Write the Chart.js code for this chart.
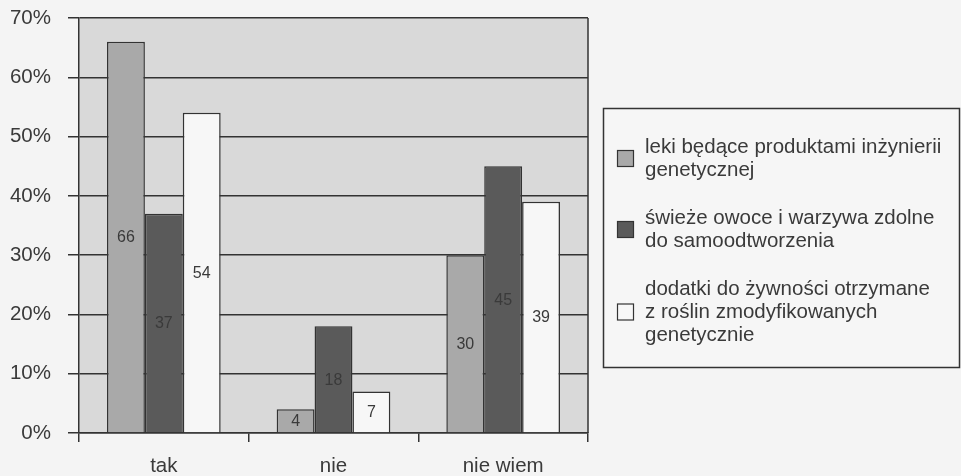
<!DOCTYPE html>
<html lang="pl">
<head>
<meta charset="utf-8">
<script src="https://cdn.jsdelivr.net/npm/chart.js@4/dist/chart.umd.min.js"></script>
<style>
  html, body { margin: 0; padding: 0; background: #f4f4f4; }
  #wrap { width: 961px; height: 476px; position: relative; }
</style>
</head>
<body>
<div id="wrap"><canvas id="c" width="961" height="476"></canvas></div>
<script>
// Answer categories
const categories = ['tak', 'nie', 'nie wiem'];

// Series names (legend lines)
const seriesNames = [
  ['leki będące produktami inżynierii', 'genetycznej'],
  ['świeże owoce i warzywa zdolne', 'do samoodtworzenia'],
  ['dodatki do żywności otrzymane', 'z roślin zmodyfikowanych', 'genetycznie']
];

// Percent of answers per category
const lekiValues    = [66, 4, 30];
const owoceValues   = [37, 18, 45];
const dodatkiValues = [54, 7, 39];

// Value axis
const yMax = 70;
const yStep = 10;

const seriesValues = [lekiValues, owoceValues, dodatkiValues];
const seriesColors = ['#a9a9a9', '#5a5a5a', '#f7f7f7'];
const INK = '#333333';
const TEXT = '#3a3a3a';
const FONT = '"Liberation Sans", Arial, sans-serif';

// Gray plot background with a frame
const plotFrame = {
  id: 'plotFrame',
  beforeDraw(chart) {
    const { ctx, chartArea: a } = chart;
    ctx.save();
    ctx.fillStyle = '#d9d9d9';
    ctx.fillRect(a.left, a.top, a.right - a.left, a.bottom - a.top);
    ctx.restore();
  },
  afterDatasetsDraw(chart) {
    const { ctx, chartArea: a } = chart;
    ctx.save();
    ctx.strokeStyle = INK;
    ctx.lineWidth = 1.5;
    ctx.beginPath();
    ctx.moveTo(a.right, a.top);
    ctx.lineTo(a.right, a.bottom);
    ctx.stroke();
    ctx.restore();
  }
};

// Value written in the middle of each bar
const barValues = {
  id: 'barValues',
  afterDatasetsDraw(chart) {
    const { ctx } = chart;
    ctx.save();
    ctx.font = '16px ' + FONT;
    ctx.fillStyle = TEXT;
    ctx.textAlign = 'center';
    ctx.textBaseline = 'middle';
    chart.data.datasets.forEach((ds, i) => {
      chart.getDatasetMeta(i).data.forEach((bar, j) => {
        const y = (bar.y + bar.base) / 2;
        ctx.fillText(String(ds.data[j]), bar.x, y + 1);
      });
    });
    ctx.restore();
  }
};

// Boxed legend with wrapped labels on the right
const sideLegend = {
  id: 'sideLegend',
  afterDraw(chart) {
    const { ctx } = chart;
    const box = { x: 603.5, y: 108.5, w: 356, h: 259 };
    const firstLines = [147, 218, 289];
    const lineH = 23;
    ctx.save();
    ctx.fillStyle = '#f6f6f6';
    ctx.fillRect(box.x, box.y, box.w, box.h);
    ctx.strokeStyle = INK;
    ctx.lineWidth = 1.5;
    ctx.strokeRect(box.x, box.y, box.w, box.h);
    ctx.font = '20.5px ' + FONT;
    ctx.textBaseline = 'middle';
    ctx.textAlign = 'left';
    chart.data.datasets.forEach((ds, i) => {
      const lines = seriesNames[i];
      const y0 = firstLines[i];
      const mid = y0 + (lines.length - 1) * lineH / 2;
      ctx.fillStyle = ds.backgroundColor;
      ctx.fillRect(617.5, mid - 8, 16, 16);
      ctx.strokeStyle = INK;
      ctx.lineWidth = 1.2;
      ctx.strokeRect(617.5, mid - 8, 16, 16);
      ctx.fillStyle = TEXT;
      lines.forEach((t, k) => ctx.fillText(t, 645, y0 + k * lineH));
    });
    ctx.restore();
  }
};

new Chart(document.getElementById('c'), {
  type: 'bar',
  data: {
    labels: categories,
    datasets: seriesValues.map((vals, i) => ({
      label: seriesNames[i].join(' '),
      data: vals,
      backgroundColor: seriesColors[i],
      borderColor: INK,
      borderWidth: 1.5,
      categoryPercentage: 0.67,
      barPercentage: 1.0
    }))
  },
  options: {
    responsive: false,
    animation: false,
    layout: { padding: { left: 0, right: 373, top: 18, bottom: 0 } },
    plugins: {
      legend: { display: false },
      tooltip: { enabled: false }
    },
    scales: {
      x: {
        grid: {
          offset: true,
          drawOnChartArea: false,
          drawTicks: true,
          tickLength: 9,
          color: INK,
          lineWidth: 1.5
        },
        border: { display: true, color: INK, width: 1.5 },
        ticks: {
          color: TEXT,
          font: { family: FONT, size: 20.5 },
          padding: 12
        },
        afterFit(scale) {
          scale.height = 43;
          scale.paddingLeft = 0;
          scale.paddingRight = 0;
        }
      },
      y: {
        min: 0,
        max: yMax,
        ticks: {
          stepSize: yStep,
          color: TEXT,
          font: { family: FONT, size: 20.5 },
          padding: 17,
          callback: v => v + '%'
        },
        grid: {
          color: INK,
          lineWidth: 1.5,
          tickLength: 11,
          drawTicks: true
        },
        border: { display: true, color: INK, width: 1.5 },
        afterFit(scale) {
          scale.width = 79;
          scale.paddingTop = 0;
          scale.paddingBottom = 0;
        }
      }
    }
  },
  plugins: [plotFrame, barValues, sideLegend]
});
</script>
</body>
</html>
